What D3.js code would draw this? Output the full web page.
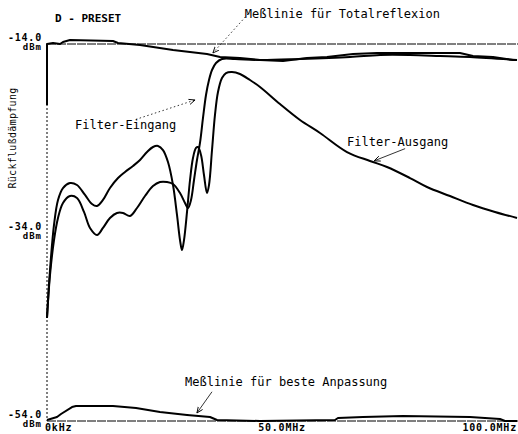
<!DOCTYPE html>
<html lang="de">
<head>
  <meta charset="UTF-8">
  <title>D - PRESET Rückflußdämpfung</title>
  <script src="https://d3js.org/d3.v7.min.js"></script>
  <style>
    html, body { margin: 0; padding: 0; background: #fff; }
    svg { display: block; }
    .curve { fill: none; stroke: #000; stroke-width: 2px; stroke-linejoin: round; }
    .mono { font-family: "DejaVu Sans Mono", "Liberation Mono", monospace; fill: #000; }
    .tick-num { font-size: 10px; font-weight: bold; letter-spacing: 0.8px; }
    .tick-unit { font-size: 9px; font-weight: bold; letter-spacing: 1px; }
    .note { font-size: 12px; }
    .grid { stroke: #000; stroke-width: 1px; fill: none; }
  </style>
</head>
<body>
  <svg width="518" height="434"></svg>
  <script>
    // Frequenz in MHz, Pegel in dBm
    const eingangF = [0, 0.64, 1.49, 2.34, 3.4, 4.89, 6.38, 7.87, 9.15, 10.64, 11.91, 13.4, 14.89, 16.17, 17.66, 19.15, 20.85, 22.55, 24.04, 25.53, 26.81, 28.3, 29.36, 30.0, 30.64, 31.28, 31.91, 32.55, 33.19, 33.83, 34.47, 35.11, 35.96, 37.23, 40.0, 45.32, 53.83, 64.47, 70.85, 77.23, 83.62, 90.0, 100];
    const eingangDb = [-43.07, -38.51, -34.8, -32.46, -30.87, -30.13, -30.34, -31.82, -33.52, -34.27, -33.52, -32.46, -31.93, -31.93, -32.25, -31.4, -30.13, -29.07, -28.64, -28.64, -28.85, -29.81, -30.87, -31.4, -30.55, -28.43, -26.31, -24.5, -21.85, -19.41, -17.82, -16.76, -16.02, -15.59, -15.59, -15.7, -15.59, -15.38, -15.17, -15.17, -15.27, -15.38, -15.7];

    const ausgangF = [0, 0.64, 1.49, 2.34, 3.4, 4.89, 6.38, 8.09, 9.57, 10.64, 11.91, 13.4, 15.11, 16.6, 18.3, 19.79, 21.28, 22.55, 23.62, 24.68, 25.74, 26.81, 27.66, 28.3, 28.72, 29.15, 29.79, 30.43, 31.06, 31.7, 32.13, 32.77, 33.4, 34.04, 34.47, 35.11, 35.74, 36.38, 37.23, 38.09, 39.36, 41.06, 43.19, 45.32, 49.57, 53.83, 58.09, 63.83, 68.72, 72.34, 77.23, 80.85, 85.74, 90.64, 95.32, 100];
    const ausgangDb = [-43.07, -37.98, -33.2, -30.55, -29.28, -28.75, -28.96, -30.02, -30.98, -31.19, -30.55, -29.28, -28.22, -27.58, -26.94, -26.31, -25.46, -24.93, -24.82, -25.25, -26.52, -28.96, -32.14, -34.8, -35.86, -34.8, -31.82, -28.43, -26.1, -25.03, -24.93, -25.78, -27.9, -29.81, -28.96, -25.25, -21.53, -19.09, -17.61, -17.08, -16.97, -17.18, -17.82, -18.56, -20.37, -22.06, -23.44, -25.46, -26.41, -27.05, -28.22, -29.17, -30.13, -31.08, -31.82, -32.46];

    const totalF = [0, 0, 1.28, 2.77, 3.4, 4.89, 14.04, 15.11, 19.79, 26.81, 34.04, 36.81, 41.06, 45.32, 50.21, 55.32, 59.57, 65.11, 70.21, 87.87, 90.64, 94.89, 99.15, 100];
    const totalDb = [-20.47, -14.0, -13.89, -14.0, -13.79, -13.58, -13.68, -13.89, -14.11, -14.64, -15.06, -15.38, -15.49, -15.7, -15.8, -15.49, -15.38, -15.06, -14.95, -14.95, -15.27, -15.38, -15.7, -15.7];

    const besteF = [0, 2.13, 2.98, 5.32, 6.17, 14.04, 18.94, 24.04, 29.79, 34.68, 36.17, 45.32, 61.28, 61.91, 67.23, 75.74, 90.0, 96.38, 97.45, 100];
    const besteDb = [-53.89, -53.58, -53.26, -52.52, -52.41, -52.41, -52.62, -53.05, -53.36, -53.58, -53.89, -54.0, -53.89, -53.68, -53.58, -53.47, -53.58, -53.79, -54.0, -54.0];

    // Achsenbeschriftung
    const yTicks = [-14, -34, -54];
    const yTickLabels = ["-14.0", "-34.0", "-54.0"];
    const xTicks = [0, 50, 100];
    const xTickLabels = ["0kHz", "50.0MHz", "100.0MHz"];

    const svg = d3.select("svg");

    const x = d3.scaleLinear().domain([0, 100]).range([47, 517]);
    const y = d3.scaleLinear().domain([-54, -14]).range([421, 44]);

    // Rahmenlinien (oben, unten, links)
    svg.append("line").attr("class", "grid")
       .attr("x1", x(0)).attr("x2", 518)
       .attr("y1", y(-14)).attr("y2", y(-14))
       .attr("stroke-dasharray", "9,1");
    svg.append("line").attr("class", "grid")
       .attr("x1", x(0)).attr("x2", 518)
       .attr("y1", y(-54)).attr("y2", y(-54))
       .attr("stroke-dasharray", "9,1");
    svg.append("line").attr("class", "grid")
       .attr("x1", x(0)).attr("x2", x(0))
       .attr("y1", y(-14)).attr("y2", y(-54))
       .attr("stroke-dasharray", "2,2");

    // Kurven
    const zip = (f, d) => f.map((v, i) => [v, d[i]]);
    const smooth = d3.line().x(d => x(d[0])).y(d => y(d[1])).curve(d3.curveCatmullRom.alpha(0.5));
    const straight = d3.line().x(d => x(d[0])).y(d => y(d[1]));

    svg.append("path").attr("class", "curve").attr("d", straight(zip(totalF, totalDb)));
    svg.append("path").attr("class", "curve").attr("d", straight(zip(besteF, besteDb)));
    svg.append("path").attr("class", "curve").attr("d", smooth(zip(eingangF, eingangDb)));
    svg.append("path").attr("class", "curve").attr("d", smooth(zip(ausgangF, ausgangDb)));

    // y-Achse Beschriftung
    yTicks.forEach((t, i) => {
      svg.append("text").attr("class", "mono tick-num")
         .attr("x", 42).attr("y", y(t) - 3)
         .style("text-anchor", "end")
         .text(yTickLabels[i]);
      svg.append("text").attr("class", "mono tick-unit")
         .attr("x", 42).attr("y", y(t) + 6)
         .style("text-anchor", "end")
         .text("dBm");
    });

    // x-Achse Beschriftung
    const xAnchor = ["start", "middle", "end"];
    xTicks.forEach((t, i) => {
      svg.append("text").attr("class", "mono tick-num")
         .attr("x", x(t) + (i === 0 ? -2 : 0)).attr("y", 431)
         .style("text-anchor", xAnchor[i])
         .text(xTickLabels[i]);
    });

    svg.append("text").attr("class", "mono")
       .attr("transform", "translate(16,138) rotate(-90)")
       .style("text-anchor", "middle")
       .style("font-size", "10px")
       .style("letter-spacing", "0.3px")
       .text("Rückflußdämpfung");

    svg.append("text").attr("class", "mono")
       .attr("x", 55).attr("y", 22)
       .style("font-size", "11px")
       .style("font-weight", "bold")
       .text("D - PRESET");

    // Pfeile
    svg.append("defs").append("marker")
       .attr("id", "arrow")
       .attr("viewBox", "0 -4 8 8")
       .attr("refX", 7).attr("refY", 0)
       .attr("markerWidth", 7).attr("markerHeight", 7)
       .attr("markerUnits", "userSpaceOnUse")
       .attr("orient", "auto")
       .append("path")
       .attr("d", "M0,-3L7,0L0,3")
       .attr("fill", "none").attr("stroke", "#000").attr("stroke-width", 1);

    const notes = [
      { text: "Meßlinie für Totalreflexion", tf: 42.1, tdb: -11.24, sf: 42.8, sdb: -10.8, ef: 35.3, edb: -14.95, dash: "1.5,2.5" },
      { text: "Filter-Eingang", tf: 5.96, tdb: -23.02, sf: 18.9, sdb: -22.0, ef: 31.5, edb: -19.94, dash: "1.5,2.5" },
      { text: "Filter-Ausgang", tf: 63.83, tdb: -24.82, sf: 76.2, sdb: -25.1, ef: 69.6, edb: -26.4, dash: null },
      { text: "Meßlinie für beste Anpassung", tf: 29.36, tdb: -50.29, sf: 35.1, sdb: -50.9, ef: 31.9, edb: -53.15, dash: null }
    ];

    notes.forEach(n => {
      svg.append("text").attr("class", "mono note")
         .attr("x", x(n.tf)).attr("y", y(n.tdb))
         .text(n.text);
      svg.append("line")
         .attr("x1", x(n.sf)).attr("y1", y(n.sdb))
         .attr("x2", x(n.ef)).attr("y2", y(n.edb))
         .attr("stroke", "#000").attr("stroke-width", 0.8)
         .attr("stroke-dasharray", n.dash)
         .attr("marker-end", "url(#arrow)");
    });
  </script>
</body>
</html>
